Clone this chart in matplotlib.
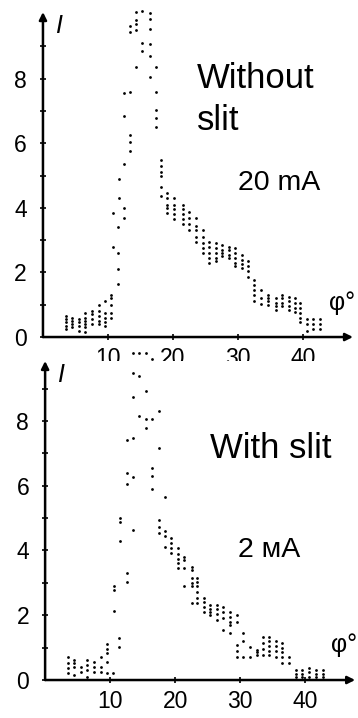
import matplotlib.pyplot as plt

plt.rcParams['font.family'] = ['Liberation Sans', 'DejaVu Sans']

# Without slit, 20 mA  (angle phi in degrees, intensity I)
top_phi = ([3.5] * 5 + [4.5] * 4 + [5.5] * 4 + [6.5] * 6 + [7.5] * 4 + [8.6] * 5
           + [9.6] * 5 + [10.5] * 5 + [10.7] * 2 + [11.5] * 4 + [11.7] * 2
           + [12.5] * 5 + [13.4] * 6 + [14.3] * 5 + [15.3] * 3 + [16.4] * 6
           + [17.4] * 5 + [18.1] * 6 + [19.1] * 5 + [20.1] * 5 + [21.5] * 5
           + [22.5] * 4 + [23.5] * 5 + [24.6] * 5 + [25.6] * 5 + [26.6] * 5
           + [27.6] * 4 + [28.6] * 4 + [29.6] * 5 + [30.6] * 4 + [31.6] * 4
           + [32.5] * 5 + [33.6] * 3 + [34.6] * 4 + [35.8] * 4 + [36.8] * 4
           + [37.8] * 4 + [38.8] * 4 + [39.6] * 5 + [40.6] * 3 + [41.6] * 3
           + [42.6] * 3)
top_I = [0.66, 0.56, 0.45, 0.35, 0.25,
         0.6, 0.5, 0.4, 0.3,
         0.55, 0.45, 0.35, 0.2,
         0.75, 0.6, 0.5, 0.4, 0.3, 0.15,
         0.8, 0.7, 0.55, 0.4,
         1.0, 0.8, 0.65, 0.5, 0.4,
         1.1, 0.75, 0.6, 0.45, 0.35,
         1.3, 1.2, 1.0, 0.75, 0.6,
         3.85, 2.78,
         3.4, 2.6, 2.1, 1.64,
         4.9, 4.3,
         7.56, 6.84, 5.35, 4.0, 3.7,
         9.63, 9.45, 7.6, 6.25, 6.05, 5.75,
         10.07, 9.81, 9.68, 9.5, 8.37,
         10.09, 9.09, 8.86,
         10.02, 9.86, 9.53, 9.06, 8.71, 8.04,
         8.37, 7.57, 7.03, 6.77, 6.5,
         5.48, 5.3, 5.1, 5.0, 4.65, 4.37,
         4.45, 4.3, 4.1, 4.0, 3.85,
         4.3, 4.1, 3.95, 3.8, 3.65,
         4.1, 3.95, 3.8, 3.65, 3.5,
         3.88, 3.7, 3.5, 3.3,
         3.67, 3.45, 3.3, 3.1, 2.95,
         3.3, 3.1, 2.9, 2.75, 2.6,
         2.95, 2.8, 2.6, 2.45, 2.28,
         2.9, 2.75, 2.6, 2.45, 2.35,
         2.85, 2.7, 2.6, 2.5,
         2.8, 2.7, 2.55, 2.45,
         2.75, 2.6, 2.45, 2.3, 2.2,
         2.55, 2.4, 2.25, 2.15,
         2.35, 2.2, 2.05, 1.85,
         1.76, 1.6, 1.45, 1.3, 1.1,
         1.45, 1.2, 1.03,
         1.3, 1.2, 1.1, 1.0,
         1.2, 1.05, 0.95, 0.83,
         1.3, 1.2, 1.05, 0.95,
         1.25, 1.1, 0.95, 0.83,
         1.2, 1.05, 0.9, 0.78,
         1.04, 0.9, 0.75, 0.6, 0.47,
         0.55, 0.4, 0.2,
         0.55, 0.4, 0.25,
         0.55, 0.4, 0.25]

# With slit, 2 mA
bot_phi = ([3.5] * 4 + [4.5] * 4 + [5.5] * 2 + [6.5] * 4 + [7.5] * 3 + [8.6] * 3
           + [9.5] * 5 + [10.5] * 1 + [10.6] * 3 + [11.4] * 2 + [11.5] * 3
           + [12.6] * 5 + [13.5] * 6 + [14.5] * 3 + [15.5] * 4 + [16.5] * 5
           + [17.6] * 5 + [18.4] * 4 + [19.4] * 4 + [20.4] * 5 + [21.4] * 4
           + [22.6] * 6 + [23.4] * 6 + [24.4] * 4 + [25.4] * 4 + [26.4] * 4
           + [27.4] * 4 + [28.5] * 5 + [29.5] * 5 + [30.5] * 3 + [31.5] * 2
           + [32.6] * 3 + [33.6] * 4 + [34.5] * 5 + [35.6] * 4 + [36.5] * 5
           + [37.6] * 2 + [38.6] * 3 + [39.6] * 3 + [40.6] * 3 + [41.7] * 3
           + [42.7] * 3)
bot_I = [0.72, 0.52, 0.36, 0.21,
         0.62, 0.52, 0.41, 0.15,
         0.41, 0.26,
         0.62, 0.46, 0.31, 0.10,
         0.55, 0.41, 0.26,
         0.72, 0.41, 0.26,
         1.1, 0.96, 0.82, 0.55, 0.21,
         0.21,
         2.89, 2.78, 2.14,
         1.29, 1.03,
         5.0, 4.88, 4.28,
         7.4, 6.38, 6.05, 3.3, 3.02,
         10.1, 9.47, 8.74, 7.48, 6.26, 4.64,
         10.1, 9.38, 8.15,
         10.1, 8.92, 8.06, 7.77,
         9.9, 8.05, 6.56, 6.3, 5.9,
         8.3, 7.15, 4.95, 4.74, 4.54,
         5.64, 4.6, 4.46, 4.12,
         4.38, 4.23, 4.07, 3.92,
         4.07, 3.9, 3.75, 3.6, 3.45,
         3.81, 3.71, 3.45, 2.89,
         3.5, 3.4, 3.14, 2.99, 2.89, 2.37,
         3.16, 3.04, 2.89, 2.73, 2.53, 2.37,
         2.53, 2.4, 2.25, 2.11,
         2.32, 2.2, 2.1, 2.01,
         2.32, 2.2, 2.05, 1.86,
         2.27, 2.1, 1.9, 1.55,
         2.11, 1.95, 1.8, 1.7, 1.44,
         2.0, 1.8, 1.08, 0.9, 0.72,
         1.44, 1.19, 0.72,
         1.03, 0.72,
         0.93, 0.85, 0.77,
         1.34, 1.15, 0.95, 0.77,
         1.34, 1.2, 1.05, 0.9, 0.77,
         1.19, 1.05, 0.9, 0.72,
         1.13, 1.0, 0.85, 0.72, 0.52,
         0.72, 0.52,
         0.31, 0.2, 0.1,
         0.31, 0.2, 0.1,
         0.36, 0.25, 0.1,
         0.31, 0.2, 0.1,
         0.31, 0.2, 0.1]

fig = plt.figure(figsize=(3.58, 7.18), dpi=100)
ax1 = fig.add_axes([0.120, 0.5306, 0.866, 0.4526])
ax2 = fig.add_axes([0.126, 0.0529, 0.866, 0.4443])


def style(ax, ytop):
    ax.set_xlim(0, 47.7)
    ax.set_ylim(0, ytop)
    for s in ax.spines.values():
        s.set_visible(False)
    # axes drawn as arrows
    ax.annotate('', xy=(1, 0), xytext=(0, 0), xycoords='axes fraction',
                arrowprops=dict(arrowstyle='-|>', lw=1.8, color='black',
                                mutation_scale=11, shrinkA=0, shrinkB=0))
    ax.annotate('', xy=(0, 1), xytext=(0, 0), xycoords='axes fraction',
                arrowprops=dict(arrowstyle='-|>', lw=1.8, color='black',
                                mutation_scale=11, shrinkA=0, shrinkB=0))
    ax.set_xticks([10, 20, 30, 40])
    ax.set_yticks([0, 2, 4, 6, 8])
    ax.set_yticks([1, 3, 5, 7, 9], minor=True)
    ax.tick_params(axis='y', which='both', direction='inout', length=5,
                   width=1.2, labelsize=16.5, pad=9)
    ax.tick_params(axis='x', direction='inout', length=4, width=1.2,
                   labelsize=16.5, pad=5)
    ax.text(1.8, ytop - 0.65, 'I', fontsize=18, style='italic', va='baseline')
    ax.text(44.0, 0.85, 'φ°', fontsize=18, va='baseline')


style(ax1, 10.06)
ax1.scatter(top_phi, top_I, s=4, color='black', linewidths=0, clip_on=False)
ax1.text(23.7, 7.71, 'Without', fontsize=25, va='baseline')
ax1.text(23.7, 6.41, 'slit', fontsize=25, va='baseline')
ax1.text(30.0, 4.55, '20 mA', fontsize=20.5, va='baseline')

style(ax2, 9.85)
ax2.scatter(bot_phi, bot_I, s=4, color='black', linewidths=0, clip_on=False)
ax2.text(25.4, 6.85, 'With slit', fontsize=25, va='baseline')
ax2.text(29.7, 3.8, '2 мA', fontsize=20.5, va='baseline')

fig.savefig('out.png', dpi=100)
